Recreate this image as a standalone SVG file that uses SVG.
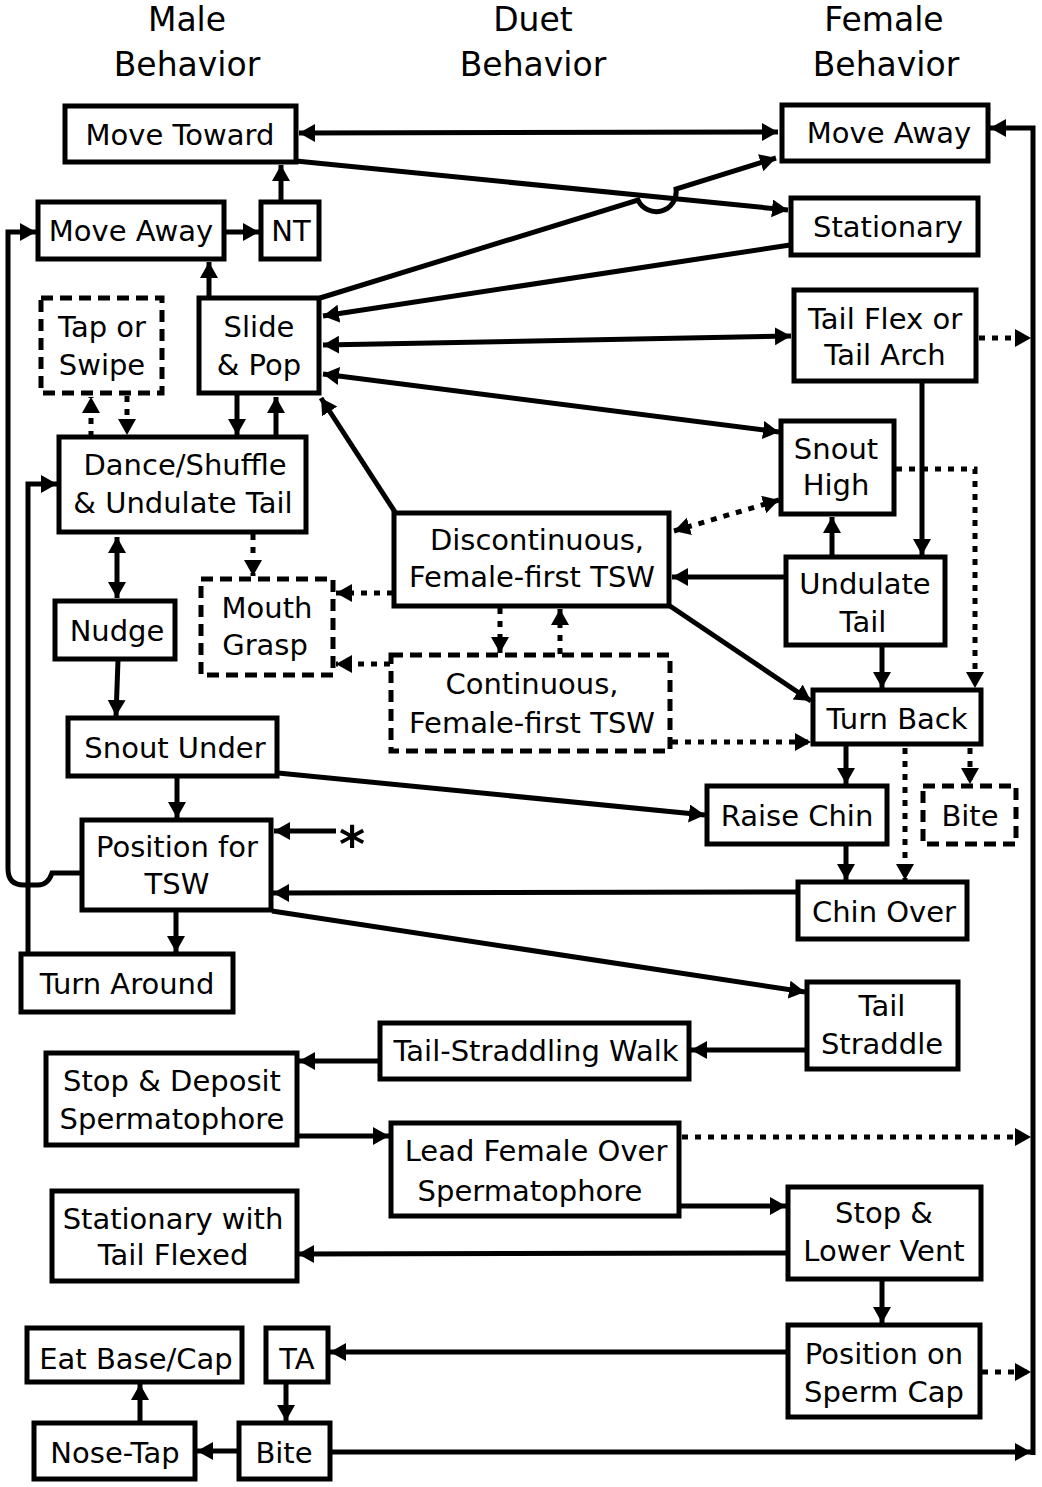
<svg xmlns="http://www.w3.org/2000/svg" width="1042" height="1487" viewBox="0 0 1042 1487">
<style>
.b{fill:#fff;stroke:#000;stroke-width:5}
.d{fill:#fff;stroke:#000;stroke-width:5;stroke-dasharray:12 7}
text{font-family:"DejaVu Sans","Liberation Sans",sans-serif;font-size:29px;fill:#000;text-anchor:middle}
.h{font-size:33px}
.c path{fill:none;stroke:#000;stroke-width:5}
.c path.o{stroke-dasharray:6 7}
.c .e{marker-end:url(#ah)}
.c .s{marker-start:url(#ah)}
</style>
<defs>
<marker id="ah" markerUnits="userSpaceOnUse" markerWidth="18" markerHeight="20" refX="16" refY="9" orient="auto-start-reverse">
<path d="M0,0 L16,9 L0,18 z" fill="#000"/>
</marker>
</defs>
<rect width="1042" height="1487" fill="#fff"/>
<g id="headers">
<text class="h" x="187" y="31">Male</text>
<text class="h" x="187" y="76">Behavior</text>
<text class="h" x="533" y="31">Duet</text>
<text class="h" x="533" y="76">Behavior</text>
<text class="h" x="884" y="31">Female</text>
<text class="h" x="886" y="76">Behavior</text>
</g>
<g class="c" id="connectors">
<path class="e s" d="M299,133 L778,132"/>
<path class="e" d="M296,161 L788,210"/>
<path class="e" d="M320,298 L638,200 A20,20 0 0 0 676,189 L776,158"/>
<path class="e" d="M790,245 L323,316"/>
<path class="e s" d="M323,345 L791,336"/>
<path class="e s" d="M323,374 L779,432"/>
<path class="e o" d="M979,338 L1031,338"/>
<path class="e" d="M209,298 L209,262"/>
<path class="e" d="M226,232 L259,232"/>
<path class="e" d="M281,202 L281,165"/>
<path class="e" d="M82,873 H52 Q48,885 38,885 H24 Q8,885 8,869 V232 H36"/>
<path class="e" d="M28,954 V484 H57"/>
<path class="e o" d="M91,437 V397"/>
<path class="e o" d="M127,396 V435"/>
<path class="e" d="M237,395 V435"/>
<path class="e" d="M276,437 V397"/>
<path class="e s" d="M117,537 V598"/>
<path class="e o" d="M253,534 V576"/>
<path class="e" d="M118,660 L116,716"/>
<path class="e" d="M395,512 L321,398"/>
<path class="e s o" d="M779,500 L674,531"/>
<path class="e" d="M786,577 L672,577"/>
<path class="e" d="M832,557 V517"/>
<path class="e" d="M922,382 V555"/>
<path class="e o" d="M896,469 H975 V688"/>
<path class="e o" d="M393,593 H336"/>
<path class="e o" d="M390,664 H336"/>
<path class="e o" d="M500,608 V653"/>
<path class="e o" d="M560,654 V609"/>
<path class="e" d="M670,606 L811,701"/>
<path class="e" d="M882,646 V688"/>
<path class="e o" d="M672,742 H811"/>
<path class="e" d="M846,746 V784"/>
<path class="e o" d="M905,748 V880"/>
<path class="e o" d="M970,748 V784"/>
<path class="e" d="M278,773 L705,815"/>
<path class="e" d="M177,778 V818"/>
<path class="e" d="M336,831 H274"/>
<path class="e" d="M797,892 L273,893"/>
<path class="e" d="M846,846 V880"/>
<path class="e" d="M176,912 V952"/>
<path class="e" d="M272,911 L805,992"/>
<path class="e" d="M806,1050 H691"/>
<path class="e" d="M379,1061 H299"/>
<path class="e" d="M298,1136 H389"/>
<path class="e o" d="M682,1137 H1031"/>
<path class="e" d="M680,1206 H786"/>
<path class="e" d="M787,1253 L298,1254"/>
<path class="e" d="M882,1281 V1323"/>
<path class="e" d="M787,1352 H330"/>
<path class="e o" d="M982,1372 H1031"/>
<path class="e" d="M286,1383 V1421"/>
<path class="e" d="M237,1451 H197"/>
<path class="e" d="M140,1422 V1384"/>
<path class="e" d="M332,1452 H1031"/>
<path class="e" d="M1033,1455 V128 H990"/>
<text x="352" y="862" style="font-size:50px;font-weight:bold">*</text>
</g>
<g id="n-move-toward"><rect class="b" x="65" y="106" width="231" height="56"/><text x="180" y="145">Move Toward</text></g>
<g id="n-move-away-f"><rect class="b" x="782" y="105" width="206" height="56"/><text x="889" y="143">Move Away</text></g>
<g id="n-move-away-m"><rect class="b" x="38" y="202" width="186" height="57"/><text x="131" y="241">Move Away</text></g>
<g id="n-nt"><rect class="b" x="261" y="202" width="58" height="57"/><text x="291" y="241">NT</text></g>
<g id="n-stationary"><rect class="b" x="791" y="198" width="187" height="57"/><text x="888" y="237">Stationary</text></g>
<g id="n-tail-flex"><rect class="b" x="794" y="290" width="182" height="91"/><text x="885" y="329">Tail Flex or</text><text x="885" y="365">Tail Arch</text></g>
<g id="n-tap"><rect class="d" x="41" y="298" width="121" height="95"/><text x="102" y="337">Tap or</text><text x="102" y="375">Swipe</text></g>
<g id="n-slide"><rect class="b" x="199" y="298" width="120" height="95"/><text x="259" y="337">Slide</text><text x="259" y="375">&amp; Pop</text></g>
<g id="n-dance"><rect class="b" x="59" y="437" width="247" height="95"/><text x="185" y="475">Dance/Shuffle</text><text x="183" y="513">&amp; Undulate Tail</text></g>
<g id="n-snout-high"><rect class="b" x="781" y="421" width="113" height="93"/><text x="836" y="459">Snout</text><text x="836" y="495">High</text></g>
<g id="n-discontinuous"><rect class="b" x="394" y="513" width="275" height="93"/><text x="537" y="550">Discontinuous,</text><text x="532" y="587">Female-first TSW</text></g>
<g id="n-undulate"><rect class="b" x="786" y="557" width="159" height="88"/><text x="865" y="594">Undulate</text><text x="863" y="632">Tail</text></g>
<g id="n-nudge"><rect class="b" x="55" y="601" width="120" height="58"/><text x="117" y="641">Nudge</text></g>
<g id="n-mouth"><rect class="d" x="201" y="579" width="132" height="96"/><text x="267" y="618">Mouth</text><text x="265" y="655">Grasp</text></g>
<g id="n-continuous"><rect class="d" x="391" y="655" width="279" height="96"/><text x="532" y="694">Continuous,</text><text x="532" y="733">Female-first TSW</text></g>
<g id="n-turn-back"><rect class="b" x="813" y="690" width="168" height="54"/><text x="897" y="729">Turn Back</text></g>
<g id="n-snout-under"><rect class="b" x="68" y="718" width="209" height="58"/><text x="175" y="758">Snout Under</text></g>
<g id="n-raise-chin"><rect class="b" x="707" y="786" width="180" height="58"/><text x="797" y="826">Raise Chin</text></g>
<g id="n-bite-f"><rect class="d" x="923" y="786" width="93" height="58"/><text x="970" y="826">Bite</text></g>
<g id="n-position-tsw"><rect class="b" x="82" y="820" width="189" height="90"/><text x="177" y="857">Position for</text><text x="177" y="894">TSW</text></g>
<g id="n-chin-over"><rect class="b" x="798" y="882" width="169" height="57"/><text x="884" y="922">Chin Over</text></g>
<g id="n-turn-around"><rect class="b" x="21" y="954" width="212" height="58"/><text x="127" y="994">Turn Around</text></g>
<g id="n-tail-straddle"><rect class="b" x="807" y="982" width="151" height="87"/><text x="882" y="1016">Tail</text><text x="882" y="1054">Straddle</text></g>
<g id="n-ts-walk"><rect class="b" x="380" y="1023" width="309" height="56"/><text x="536" y="1061">Tail-Straddling Walk</text></g>
<g id="n-stop-deposit"><rect class="b" x="46" y="1053" width="251" height="92"/><text x="172" y="1091">Stop &amp; Deposit</text><text x="172" y="1129">Spermatophore</text></g>
<g id="n-lead"><rect class="b" x="391" y="1123" width="288" height="93"/><text x="536" y="1161">Lead Female Over</text><text x="530" y="1201">Spermatophore</text></g>
<g id="n-stationary-flexed"><rect class="b" x="52" y="1191" width="245" height="90"/><text x="173" y="1229">Stationary with</text><text x="173" y="1265">Tail Flexed</text></g>
<g id="n-stop-lower"><rect class="b" x="788" y="1187" width="193" height="92"/><text x="884" y="1223">Stop &amp;</text><text x="884" y="1261">Lower Vent</text></g>
<g id="n-eat"><rect class="b" x="27" y="1328" width="215" height="54"/><text x="136" y="1369">Eat Base/Cap</text></g>
<g id="n-ta"><rect class="b" x="266" y="1328" width="62" height="54"/><text x="297" y="1369">TA</text></g>
<g id="n-position-cap"><rect class="b" x="788" y="1325" width="192" height="92"/><text x="884" y="1364">Position on</text><text x="884" y="1402">Sperm Cap</text></g>
<g id="n-nose-tap"><rect class="b" x="34" y="1423" width="161" height="56"/><text x="115" y="1463">Nose-Tap</text></g>
<g id="n-bite-m"><rect class="b" x="239" y="1423" width="91" height="56"/><text x="284" y="1463">Bite</text></g>
</svg>
